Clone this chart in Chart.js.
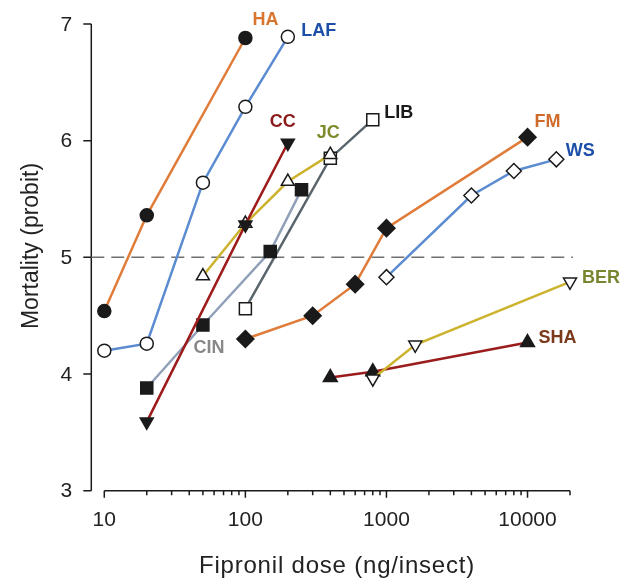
<!DOCTYPE html>
<html>
<head>
<meta charset="utf-8">
<script src="https://cdn.jsdelivr.net/npm/chart.js@4.4.0/dist/chart.umd.min.js"></script>
<style>
  html, body { margin: 0; padding: 0; background: #fff; }
</style>
</head>
<body>
<canvas id="doseChart" width="629" height="581"></canvas>
<script>
// dose (ng/insect) and mortality (probit) per strain
const haDose = [10, 20, 100];
const haProbit = [4.54, 5.36, 6.88];
const lafDose = [10, 20, 50, 100, 200];
const lafProbit = [4.20, 4.26, 5.64, 6.29, 6.89];
const ccDose = [20, 100, 200];
const ccProbit = [3.59, 5.28, 5.98];
const jcDose = [50, 100, 200, 400];
const jcProbit = [4.84, 5.29, 5.65, 5.88];
const cinDose = [20, 50, 150, 250];
const cinProbit = [3.88, 4.42, 5.05, 5.58];
const libDose = [100, 400, 800];
const libProbit = [4.56, 5.85, 6.18];
const fmDose = [100, 300, 600, 1000, 10000];
const fmProbit = [4.30, 4.50, 4.77, 5.25, 6.03];
const wsDose = [1000, 4000, 8000, 16000];
const wsProbit = [4.83, 5.53, 5.74, 5.84];
const berDose = [800, 1600, 20000];
const berProbit = [3.96, 4.25, 4.79];
const shaDose = [400, 800, 10000];
const shaProbit = [3.97, 4.02, 4.27];

const xTickLabels = [10, 100, 1000, 10000];
const yTickLabels = [3, 4, 5, 6, 7];

const strains = [
  { name: 'HA',  dose: haDose,  probit: haProbit,  line: '#e07c3a', text: '#d9752f', shape: 'circle',   filled: true,  r: 6.5, lab: [20, -18] },
  { name: 'LAF', dose: lafDose, probit: lafProbit, line: '#5b8bd0', text: '#1e4fa8', shape: 'circle',   filled: false, r: 6.5, lab: [31, -6] },
  { name: 'CC',  dose: ccDose,  probit: ccProbit,  line: '#9e1b1b', text: '#8b1a1a', shape: 'down',     filled: true,  r: 7.5, lab: [-5, -21] },
  { name: 'JC',  dose: jcDose,  probit: jcProbit,  line: '#cdb22e', text: '#7f8a2c', shape: 'triangle', filled: false, r: 7.5, lab: [-2, -22] },
  { name: 'CIN', dose: cinDose, probit: cinProbit, line: '#8fa0b8', text: '#888888', shape: 'rect',     filled: true,  r: 8.5, lab: [6, 23], at: 1 },
  { name: 'LIB', dose: libDose, probit: libProbit, line: '#5a646b', text: '#1a1a1a', shape: 'rect',     filled: false, r: 8.5, lab: [26, -7] },
  { name: 'FM',  dose: fmDose,  probit: fmProbit,  line: '#e07c3a', text: '#d06a2a', shape: 'rectRot',  filled: true,  r: 8.5, lab: [20, -15] },
  { name: 'WS',  dose: wsDose,  probit: wsProbit,  line: '#5b8bd0', text: '#1e4fa8', shape: 'rectRot',  filled: false, r: 7.5, lab: [24, -8] },
  { name: 'BER', dose: berDose, probit: berProbit, line: '#cdb22e', text: '#7a8530', shape: 'down',     filled: false, r: 7.5, lab: [31, -4] },
  { name: 'SHA', dose: shaDose, probit: shaProbit, line: '#9a1c1c', text: '#7b3a1a', shape: 'triangle', filled: true,  r: 8,   lab: [30, -4] }
];

const INK = '#1a1a1a';
const FONT = '"Liberation Sans", Arial, sans-serif';

const datasets = strains.map(s => ({
  label: s.name,
  data: s.dose.map((d, i) => ({ x: d, y: s.probit[i] })),
  borderColor: s.line,
  borderWidth: 2.5,
  tension: 0,
  clip: false,
  pointStyle: s.shape === 'down' ? 'triangle' : s.shape,
  rotation: s.shape === 'down' ? 180 : 0,
  pointRadius: s.r,
  pointBackgroundColor: s.filled ? INK : '#ffffff',
  pointBorderColor: INK,
  pointBorderWidth: 1.5
}));

const axesPlugin = {
  id: 'axesPlugin',
  beforeDatasetsDraw(chart) {
    const c = chart.ctx, xs = chart.scales.x, ys = chart.scales.y;
    const axX = xs.left - 13;
    const base = ys.getPixelForValue(3);
    c.save();
    c.strokeStyle = INK;
    c.lineWidth = 1.5;
    // y axis
    c.beginPath();
    c.moveTo(axX, ys.getPixelForValue(7));
    c.lineTo(axX, base);
    yTickLabels.forEach(v => {
      const p = ys.getPixelForValue(v);
      c.moveTo(axX - 8, p);
      c.lineTo(axX, p);
    });
    // x axis, starts at the first decade
    c.moveTo(xs.getPixelForValue(10), base);
    c.lineTo(xs.getPixelForValue(20000), base);
    for (let dec = 10; dec <= 10000; dec *= 10) {
      for (let m = 1; m <= 9; m++) {
        const v = dec * m;
        if (v > 20000) break;
        const p = xs.getPixelForValue(v);
        c.moveTo(p, base);
        c.lineTo(p, base + (m === 1 ? 7 : 4.5));
      }
    }
    const pe = xs.getPixelForValue(20000);
    c.moveTo(pe, base);
    c.lineTo(pe, base + 4.5);
    c.stroke();

    c.fillStyle = '#222';
    c.font = '21px ' + FONT;
    c.textAlign = 'right';
    c.textBaseline = 'middle';
    yTickLabels.forEach(v => c.fillText(String(v), axX - 19, ys.getPixelForValue(v) + 1));
    c.textAlign = 'center';
    xTickLabels.forEach(v => c.fillText(String(v), xs.getPixelForValue(v), base + 30));

    c.font = '24px ' + FONT;
    c.textBaseline = 'alphabetic';
    c.letterSpacing = '0.8px';
    c.fillText('Fipronil dose (ng/insect)', 337, 573);
    c.letterSpacing = '0px';
    c.textBaseline = 'middle';
    c.font = '23px ' + FONT;
    c.translate(32, 246);
    c.rotate(-Math.PI / 2);
    c.fillText('Mortality (probit)', 0, 0);
    c.restore();

    // reference line at probit 5
    c.save();
    c.strokeStyle = '#707070';
    c.lineWidth = 1.5;
    c.setLineDash([13, 7]);
    c.beginPath();
    const p5 = ys.getPixelForValue(5);
    c.moveTo(axX, p5);
    c.lineTo(xs.right + 3, p5);
    c.stroke();
    c.restore();
  },
  afterDatasetsDraw(chart) {
    const c = chart.ctx, xs = chart.scales.x, ys = chart.scales.y;
    c.save();
    c.font = 'bold 18px ' + FONT;
    c.textAlign = 'center';
    c.textBaseline = 'middle';
    strains.forEach(s => {
      const i = s.at !== undefined ? s.at : s.dose.length - 1;
      const px = xs.getPixelForValue(s.dose[i]) + s.lab[0];
      const py = ys.getPixelForValue(s.probit[i]) + s.lab[1];
      c.fillStyle = s.text;
      c.fillText(s.name, px, py);
    });
    c.restore();
  }
};

new Chart(document.getElementById('doseChart'), {
  type: 'line',
  data: { datasets },
  options: {
    responsive: false,
    animation: false,
    layout: { padding: { left: 104.3, right: 59, top: 24, bottom: 90.3 } },
    scales: {
      x: { type: 'logarithmic', min: 10, max: 20000, display: false },
      y: { type: 'linear', min: 3, max: 7, display: false }
    },
    plugins: { legend: { display: false }, tooltip: { enabled: false } }
  },
  plugins: [axesPlugin]
});
</script>
</body>
</html>
